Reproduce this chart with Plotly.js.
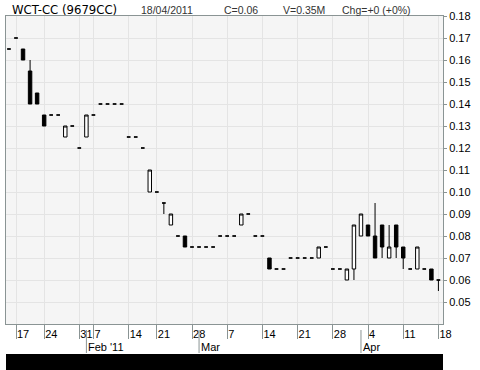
<!DOCTYPE html>
<html><head><meta charset="utf-8">
<script src="https://cdn.plot.ly/plotly-3.0.1.min.js"></script>
<style>html,body{margin:0;padding:0;background:#fff}#chart{width:480px;height:370px}</style>
</head><body><div id="chart"></div>
<script>
// trading-session index (0 = 14 Jan 2011 ... 61 = 18 Apr 2011)
const session = [0,1,2,3,4,5,6,7,8,9,10,11,12,13,14,15,16,17,18,19,20,21,22,23,24,25,26,27,28,29,30,31,32,33,34,35,36,37,38,39,40,41,42,43,44,45,46,47,48,49,50,51,52,53,54,55,56,57,58,59,60,61];
const open  = [.165,.17,.165,.155,.145,.135,.135,.135,.125,.13, .12,.125,.135,.14,.14,.14,.14,.125,.125,.12, .10,.10,.095,.085,.08,.08,.075,.075,.075,.075, .08,.08,.08,.085,.09,.08,.08,.07,.065,.065, .07,.07,.07,.07,.07,.075,.065,.065,.06,.065, .08,.085,.08,.085,.07,.085,.075,.065,.065,.065, .065,.06];
const high  = [.165,.17,.165,.16,.145,.135,.135,.135,.13,.13, .12,.135,.135,.14,.14,.14,.14,.125,.125,.12, .11,.10,.095,.09,.08,.08,.075,.075,.075,.075, .08,.08,.08,.09,.09,.08,.08,.07,.065,.065, .07,.07,.07,.07,.075,.075,.065,.065,.065,.085, .09,.085,.095,.085,.085,.085,.075,.065,.075,.065, .065,.06];
const low   = [.165,.17,.16,.14,.14,.13,.135,.135,.125,.13, .12,.125,.135,.14,.14,.14,.14,.125,.125,.12, .10,.10,.09,.085,.08,.075,.075,.075,.075,.075, .08,.08,.08,.085,.09,.08,.08,.065,.065,.065, .07,.07,.07,.07,.07,.075,.065,.065,.06,.06, .08,.08,.07,.07,.07,.07,.065,.065,.065,.065, .06,.055];
const close = [.165,.17,.16,.14,.14,.13,.135,.135,.13,.13, .12,.135,.135,.14,.14,.14,.14,.125,.125,.12, .11,.10,.095,.09,.08,.075,.075,.075,.075,.075, .08,.08,.08,.09,.09,.08,.08,.065,.065,.065, .07,.07,.07,.07,.075,.075,.065,.065,.065,.085, .09,.08,.07,.075,.075,.075,.07,.065,.075,.065, .06,.06];

const tickSessions = [1,5,10,12,17,21,26,31,36,41,46,51,56,61];
const tickLabels   = ['17','24','31','7','14','21','28','7','14','21','28','4','11','18'];
const monthSessions = [11,27,50];
const monthLabels   = ["Feb '11","Mar","Apr"];
const yTicks = [0.05,0.06,0.07,0.08,0.09,0.10,0.11,0.12,0.13,0.14,0.15,0.16,0.17,0.18];

const titleText = 'WCT-CC (9679CC)';
const headerTexts = ['18/04/2011','C=0.06','V=0.35M','Chg=+0 (+0%)'];
const headerPx = [133,216,275,334];

const FONT = 'Liberation Sans, Arial, sans-serif';
const TFONT = 'DejaVu Sans Condensed, Liberation Sans Narrow, DejaVu Sans, sans-serif';
const AX = '#8a9494';
const GRID = '#e4e4e4';

const trace = {
  type:'candlestick', x:session, open:open, high:high, low:low, close:close,
  increasing:{line:{color:'#000',width:1}, fillcolor:'#ffffff'},
  decreasing:{line:{color:'#000',width:1}, fillcolor:'#000000'},
  whiskerwidth:0, hoverinfo:'skip'
};

const H = 308; // plot height px
const py = p => (324 - p)/H;

const shapes = monthSessions.map(k => ({
  type:'line', xref:'x', yref:'paper', x0:k, x1:k, y0:py(330), y1:py(353),
  line:{color:AX,width:1}
}));
shapes.push({type:'rect', xref:'paper', yref:'paper', x0:0, x1:1, y0:py(354), y1:py(370),
  fillcolor:'#000', line:{width:0}});

const annotations = [];
annotations.push({xref:'paper', yref:'paper', x:0, xshift:4, y:py(9), xanchor:'left', yanchor:'middle',
  text:titleText, showarrow:false, font:{family:TFONT, size:13, color:'#000'}});
headerTexts.forEach((t,i)=>annotations.push({xref:'paper', yref:'paper', x:0, xshift:headerPx[i], y:py(10),
  xanchor:'left', yanchor:'middle', text:t, showarrow:false, font:{family:FONT, size:10.5, color:'#333'}}));
monthSessions.forEach((k,i)=>annotations.push({xref:'x', yref:'paper', x:k, xshift:0, y:py(347),
  xanchor:'left', yanchor:'middle', text:monthLabels[i], showarrow:false, font:{family:FONT, size:11, color:'#000'}}));

const layout = {
  width:480, height:370, margin:{l:6, r:37, t:16, b:46, pad:0},
  paper_bgcolor:'#ffffff', plot_bgcolor:'#f5f5f5', showlegend:false,
  xaxis:{type:'linear', range:[-0.42,61.65], rangeslider:{visible:false},
    tickmode:'array', tickvals:tickSessions, ticktext:tickLabels, tickangle:0,
    ticks:'outside', ticklen:14, tickcolor:AX, tickwidth:1, ticklabelposition:'outside right',
    showgrid:true, gridcolor:GRID, gridwidth:1, zeroline:false,
    showline:true, linecolor:AX, linewidth:1, mirror:true,
    tickfont:{family:FONT, size:11, color:'#000'}, fixedrange:true},
  yaxis:{side:'right', range:[0.04,0.18], tickmode:'array', tickvals:yTicks, tickformat:'.2f',
    ticks:'outside', ticklen:3, tickcolor:AX, tickwidth:1,
    showgrid:true, gridcolor:GRID, gridwidth:1, zeroline:false,
    showline:true, linecolor:AX, linewidth:1, mirror:true,
    tickfont:{family:FONT, size:11, color:'#000'}, fixedrange:true},
  shapes:shapes, annotations:annotations
};

Plotly.newPlot('chart', [trace], layout, {staticPlot:true, displayModeBar:false});
</script></body></html>
